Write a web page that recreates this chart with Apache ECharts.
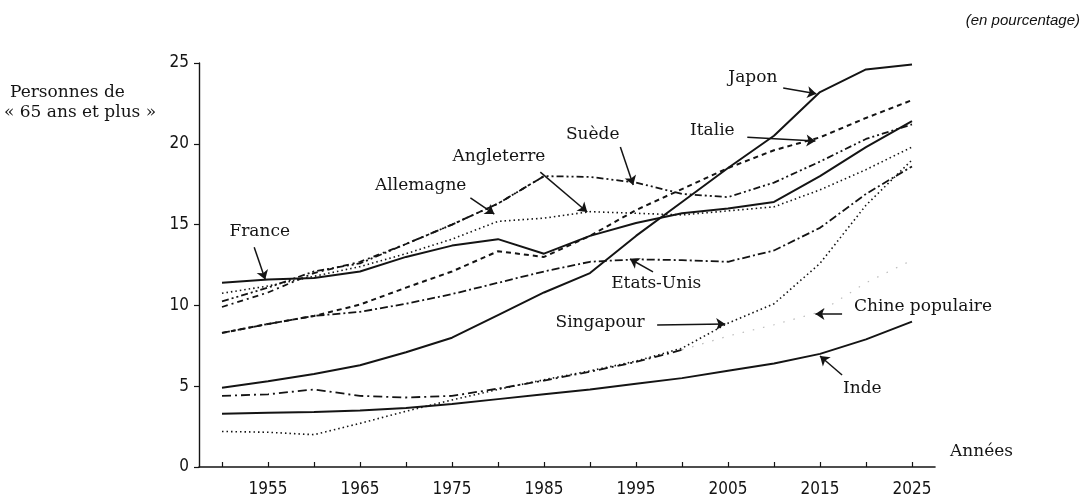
<!DOCTYPE html>
<html>
<head>
<meta charset="utf-8">
<title>Personnes de 65 ans et plus</title>
<script src="https://cdn.jsdelivr.net/npm/echarts@6/dist/echarts.min.js"></script>
<style>
  body { margin: 0; background: #fff; }
  #chart { width: 1088px; height: 502px; }
</style>
</head>
<body>
<div id="chart"></div>
<script>
// années (tous les 5 ans)
var annees = [1950, 1955, 1960, 1965, 1970, 1975, 1980, 1985, 1990, 1995, 2000, 2005, 2010, 2015, 2020, 2025];
var anneesLabels = [1955, 1965, 1975, 1985, 1995, 2005, 2015, 2025];

// pourcentage de 65 ans et plus
var france     = [11.4, 11.6, 11.7, 12.1, 13.0, 13.7, 14.1, 13.2, 14.3, 15.1, 15.7, 16.0, 16.4, 18.0, 19.8, 21.4];
var japon      = [4.9, 5.3, 5.75, 6.3, 7.1, 8.0, 9.4, 10.8, 12.0, 14.3, 16.4, 18.5, 20.5, 23.2, 24.6, 24.9];
var inde       = [3.3, 3.35, 3.4, 3.5, 3.65, 3.9, 4.2, 4.5, 4.8, 5.15, 5.5, 5.95, 6.4, 7.0, 7.9, 9.0];
var singapour  = [2.2, 2.15, 2.0, 2.7, 3.45, 4.15, 4.8, 5.4, 5.95, 6.55, 7.35, 8.9, 10.1, 12.6, 16.2, 19.0];
var chine      = [4.4, 4.5, 4.8, 4.4, 4.3, 4.4, 4.85, 5.35, 5.9, 6.5, 7.25, 8.1, 8.8, 9.6, 11.4, 12.8];
var angleterre = [10.75, 11.2, 11.8, 12.4, 13.2, 14.1, 15.2, 15.4, 15.8, 15.7, 15.6, 15.85, 16.1, 17.15, 18.4, 19.8];
var suede      = [10.25, 11.1, 12.1, 12.6, 13.8, 15.0, 16.3, 18.0, 17.95, 17.6, 16.9, 16.7, 17.6, 18.9, 20.3, 21.2];
var allemagne  = [9.9, 10.8, 12.0, 12.7, 13.8, 15.0, 16.3, 18.0, null, null, null, null, null, null, null, null];
var italie     = [8.3, 8.85, 9.35, 10.05, 11.1, 12.1, 13.35, 13.0, 14.3, 15.9, 17.2, 18.5, 19.6, 20.4, 21.6, 22.7];
var etatsUnis  = [8.3, 8.85, 9.35, 9.6, 10.1, 10.7, 11.4, 12.1, 12.7, 12.85, 12.8, 12.7, 13.4, 14.8, 16.9, 18.6];

// étiquettes et flèches (coordonnées année / %)
var etiquettes = [
  { nom: 'France',          pos: [1954.1, 14.54], de: [1953.5, 13.6], a: [1954.7, 11.6] },
  { nom: 'Allemagne',       pos: [1971.6, 17.39], de: [1977.0, 16.65], a: [1979.6, 15.65] },
  { nom: 'Angleterre',      pos: [1980.1, 19.18], de: [1984.6, 18.25], a: [1989.7, 15.78] },
  { nom: 'Suède',           pos: [1990.3, 20.54], de: [1993.3, 19.8], a: [1994.7, 17.45] },
  { nom: 'Japon',           pos: [2007.7, 24.07], de: [2011.0, 23.45], a: [2014.6, 23.1] },
  { nom: 'Italie',          pos: [2003.3, 20.79], de: [2007.1, 20.4], a: [2014.5, 20.17] },
  { nom: 'Etats-Unis',      pos: [1997.2, 11.32], de: [1996.85, 12.07], a: [1994.35, 12.87] },
  { nom: 'Singapour',       pos: [1991.1, 8.91], de: [1997.3, 8.79], a: [2004.7, 8.85] },
  { nom: 'Chine populaire', pos: [2026.2, 9.9], de: [2017.4, 9.47], a: [2014.5, 9.47] },
  { nom: 'Inde',            pos: [2019.6, 4.83], de: [2017.4, 5.69], a: [2015.0, 6.87] }
];

var serif = "'DejaVu Serif', 'Liberation Serif', serif";
var narrow = "'DejaVu Sans Condensed', 'Liberation Sans Narrow', 'DejaVu Sans', sans-serif";
var noir = '#141414';

function pts(arr) {
  return annees.map(function (a, i) { return [a, arr[i]]; });
}

function ligne(nom, arr, type, width, extra) {
  var s = {
    name: nom,
    type: 'line',
    data: pts(arr),
    symbol: 'none',
    smooth: false,
    silent: true,
    lineStyle: { color: noir, width: width, type: type }
  };
  if (extra) { for (var k in extra) s[k] = extra[k]; }
  return s;
}

var chart = echarts.init(document.getElementById('chart'));

var option = {
  animation: false,
  backgroundColor: '#fff',
  grid: { left: 199, right: 153, top: 63, bottom: 35 },
  xAxis: {
    type: 'value',
    min: 1947.5,
    max: 2027.5,
    splitLine: { show: false },
    axisLine: { lineStyle: { color: noir, width: 1.6 } },
    axisTick: {
      inside: true, length: 5,
      lineStyle: { color: noir, width: 1.2 },
      customValues: annees
    },
    axisLabel: {
      customValues: anneesLabels,
      formatter: function (v) { return String(v); },
      color: noir, fontFamily: narrow, fontSize: 17, margin: 14
    }
  },
  yAxis: {
    type: 'value',
    min: 0,
    max: 25,
    interval: 5,
    splitLine: { show: false },
    axisLine: { show: true, lineStyle: { color: noir, width: 1.4 } },
    axisTick: { show: true, length: 5, lineStyle: { color: noir, width: 1.2 } },
    axisLabel: { color: noir, fontFamily: narrow, fontSize: 17, margin: 10 }
  },
  graphic: [
    { type: 'text', right: 8, top: 13, style: { text: '(en pourcentage)', font: 'italic 15px "Liberation Sans", Arial, sans-serif', fill: '#111' } },
    { type: 'text', left: 10, top: 84, style: { text: 'Personnes de', font: '17px ' + serif, fill: noir } },
    { type: 'text', left: 4, top: 104, style: { text: '« 65 ans et plus »', font: '17px ' + serif, fill: noir } },
    { type: 'text', left: 950, top: 443, style: { text: 'Années', font: '17px ' + serif, fill: noir } }
  ],
  series: [
    ligne('France', france, 'solid', 2),
    ligne('Japon', japon, 'solid', 2),
    ligne('Inde', inde, 'solid', 2),
    ligne('Singapour', singapour, [1.5, 3], 1.6),
    ligne('Chine populaire', chine, [9, 4, 2, 4], 1.8, { data: pts(chine).slice(0, 11) }),
    ligne('Chine populaire (suite)', chine, [1.5, 9], 1.2, { data: pts(chine).slice(10), lineStyle: { color: '#bbb', width: 1.2, type: [1.5, 9] } }),
    ligne('Angleterre', angleterre, [1.5, 3], 1.6),
    ligne('Suède', suede, [7, 3, 2, 3, 2, 3], 1.8),
    ligne('Allemagne', allemagne, [6, 4, 2, 4], 1.8),
    ligne('Italie', italie, [5, 4], 2),
    ligne('Etats-Unis', etatsUnis, [8, 3, 2, 3], 1.8),
    {
      name: 'annotations',
      type: 'line',
      data: [],
      silent: true,
      markLine: {
        silent: true,
        symbol: ['none', 'arrow'],
        symbolSize: 9,
        label: { show: false },
        lineStyle: { color: noir, width: 1.5, type: 'solid' },
        data: etiquettes.map(function (e) {
          return [{ coord: e.de }, { coord: e.a }];
        })
      },
      markPoint: {
        silent: true,
        symbol: 'circle',
        symbolSize: 0,
        label: {
          show: true,
          position: 'inside',
          color: noir,
          fontFamily: serif,
          fontSize: 17
        },
        data: etiquettes.map(function (e) {
          return { coord: e.pos, value: e.nom, label: { formatter: e.nom } };
        })
      }
    }
  ]
};

chart.setOption(option);
</script>
</body>
</html>
